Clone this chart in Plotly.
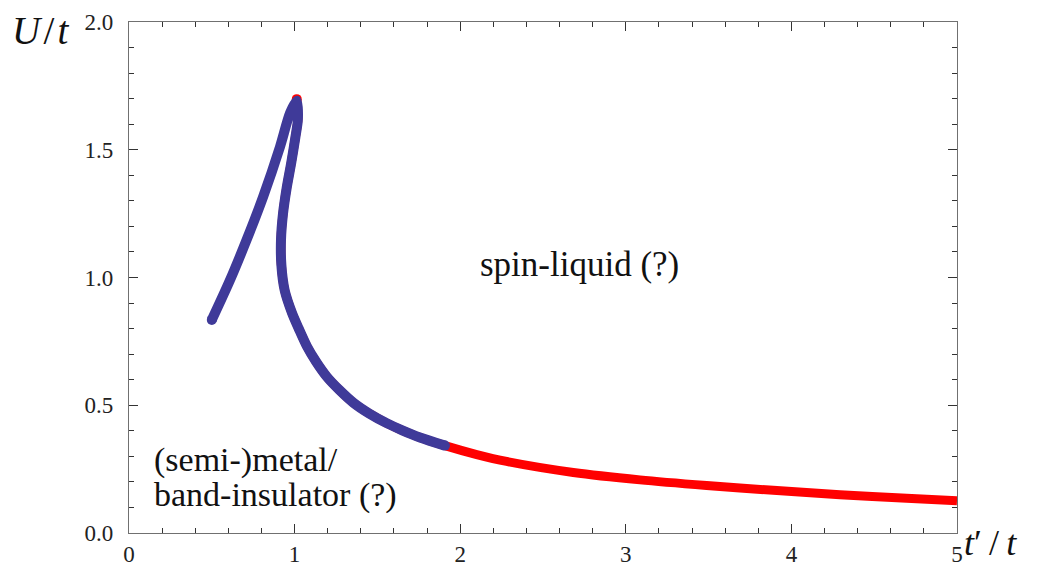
import plotly.graph_objects as go

# Outer (left) branch, blue: from t'/t=0.5 up to the cusp
outer_x = [0.50, 0.61, 0.71, 0.81, 0.912, 0.972, 1.013]
outer_y = [0.834, 0.99, 1.147, 1.316, 1.512, 1.643, 1.692]

# Inner branch from cusp down to where the blue part ends
inner_x = [1.013, 1.02, 1.005, 0.98, 0.952, 0.93, 0.918, 0.92, 0.94, 0.985,
           1.025, 1.075, 1.13, 1.194, 1.27, 1.355, 1.45, 1.556, 1.65, 1.757, 1.908]
inner_y = [1.692, 1.62, 1.55, 1.45, 1.35, 1.25, 1.15, 1.05, 0.95, 0.86,
           0.80, 0.73, 0.67, 0.612, 0.56, 0.510, 0.468, 0.430, 0.402, 0.374, 0.342]

# Red tail continuing to t'/t = 5
tail_x = [1.908, 2.1, 2.28, 2.683, 3.086, 3.488, 3.89, 4.293, 4.696, 5.0]
tail_y = [0.342, 0.307, 0.280, 0.237, 0.208, 0.186, 0.167, 0.150, 0.136, 0.126]

x_ticks = [0, 1, 2, 3, 4, 5]
y_ticks = [0.0, 0.5, 1.0, 1.5, 2.0]

BLUE = "#3f3a99"
RED = "#ff0000"
FONT = "Liberation Serif, Times New Roman, serif"

fig = go.Figure()

# red curve (drawn underneath) along the whole inner branch and tail
red_x = inner_x + tail_x[1:]
red_y = inner_y + tail_y[1:]
fig.add_trace(go.Scatter(x=red_x, y=red_y, mode="lines",
                         line=dict(color=RED, width=9, shape="spline", smoothing=0.8),
                         hoverinfo="skip", showlegend=False))
fig.add_trace(go.Scatter(x=[inner_x[0]], y=[inner_y[0] + 0.006], mode="markers",
                         marker=dict(color=RED, size=10), hoverinfo="skip", showlegend=False))

# blue curve on top
blue_x = outer_x + inner_x[1:]
blue_y = outer_y + inner_y[1:]
fig.add_trace(go.Scatter(x=blue_x, y=blue_y, mode="lines",
                         line=dict(color=BLUE, width=10, shape="spline", smoothing=0.8),
                         hoverinfo="skip", showlegend=False))
fig.add_trace(go.Scatter(x=[blue_x[0], blue_x[-1]], y=[blue_y[0], blue_y[-1]], mode="markers",
                         marker=dict(color=BLUE, size=10), hoverinfo="skip", showlegend=False))

axis_common = dict(
    showline=True, linecolor="#707070", linewidth=1.2, mirror="ticks",
    ticks="inside", ticklen=9, tickwidth=1.2, tickcolor="#333333",
    showgrid=False, zeroline=False, automargin=False,
    tickfont=dict(family=FONT, size=23, color="#222222"),
)

fig.update_xaxes(range=[0, 5], tickvals=x_ticks, ticktext=[str(v) for v in x_ticks],
                 minor=dict(dtick=0.2, ticks="inside", ticklen=5, tickwidth=1.2,
                            tickcolor="#333333", showgrid=False),
                 ticklabelstandoff=0, **axis_common)
fig.update_yaxes(range=[0, 2], tickvals=y_ticks, ticktext=[f"{v:.1f}" for v in y_ticks],
                 minor=dict(dtick=0.1, ticks="inside", ticklen=5, tickwidth=1.2,
                            tickcolor="#333333", showgrid=False),
                 ticklabelstandoff=10, **axis_common)

# plot-area geometry (pixels) used to place the axis-title annotations
L, R, T, B = 129, 957, 22, 533
W, H = R - L, B - T

annotations = [
    dict(x=2.72, y=1.05, xref="x", yref="y", text="spin-liquid (?)", showarrow=False,
         xanchor="center", yanchor="middle", font=dict(family=FONT, size=35, color="#111111")),
    dict(x=0.139, y=0.285, xref="x", yref="y", text="(semi-)metal/", showarrow=False,
         xanchor="left", yanchor="middle", font=dict(family=FONT, size=34, color="#111111")),
    dict(x=0.139, y=0.148, xref="x", yref="y", text="band-insulator (?)", showarrow=False,
         xanchor="left", yanchor="middle", font=dict(family=FONT, size=34, color="#111111")),
    dict(x=(10 - L) / W, y=(B - 30) / H, xref="paper", yref="paper",
         text="<i>U</i>\u200a/\u200a<i>t</i>", showarrow=False, xanchor="left", yanchor="middle",
         font=dict(family=FONT, size=39, color="#111111")),
    dict(x=(962 - L) / W, y=(B - 543) / H, xref="paper", yref="paper",
         text="<i>t</i>\u2032\u2009/\u2009<i>t</i>", showarrow=False, xanchor="left", yanchor="middle",
         font=dict(family=FONT, size=36, color="#111111")),
]

fig.update_layout(
    width=1038, height=567,
    margin=dict(l=L, r=1038 - R, t=T, b=567 - B, pad=0, autoexpand=False),
    paper_bgcolor="white", plot_bgcolor="white",
    annotations=annotations,
    showlegend=False,
)

fig.write_html("out.html")
